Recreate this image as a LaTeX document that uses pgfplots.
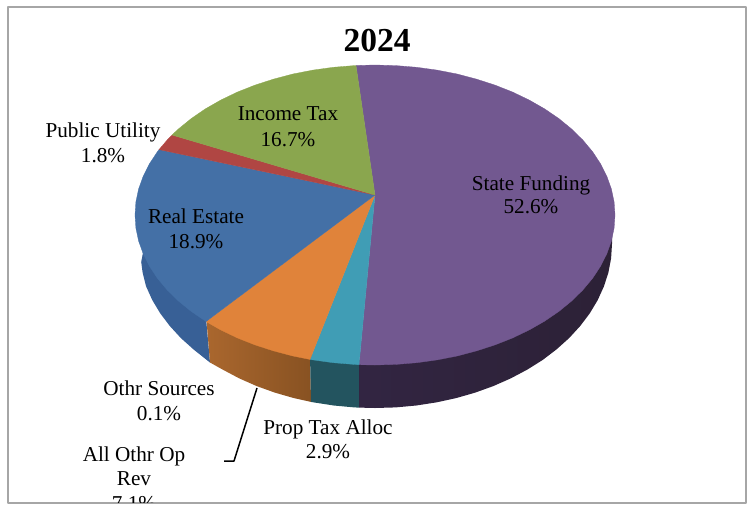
\documentclass[border=0pt]{standalone}
\usepackage{pgfplots}
\pgfplotsset{compat=1.18}
\usepackage{fontspec}
\setmainfont{Liberation Serif}
\definecolor{cPurple}{RGB}{114,88,144}
\definecolor{cTeal}{RGB}{64,157,181}
\definecolor{cOrange}{RGB}{224,131,58}
\definecolor{cBlue}{RGB}{68,112,166}
\definecolor{cRed}{RGB}{176,70,67}
\definecolor{cGreen}{RGB}{138,166,78}
\definecolor{cFrame}{RGB}{166,166,166}
\definecolor{wBlue}{RGB}{56,96,150}
\definecolor{wOrangeL}{RGB}{170,103,46}
\definecolor{wOrangeR}{RGB}{136,82,34}
\definecolor{wTeal}{RGB}{35,84,95}
\definecolor{wPurpleL}{RGB}{50,37,66}
\definecolor{wPurpleR}{RGB}{44,33,54}
\newcommand{\lab}{\fontsize{21.2}{24}\selectfont}
\begin{document}
\begin{tikzpicture}
\begin{axis}[
  scale only axis, width=751pt, height=504pt,
  xmin=0, xmax=751, ymin=0, ymax=504, y dir=reverse,
  hide axis, clip=false,
  every axis plot/.append style={line join=round},
]
% chart frame
\addplot[cFrame, line width=1.5pt] coordinates {(8,7) (746,7) (746,503) (8,503)} --cycle;

% side walls of the disc
\addplot[draw=none, fill=wBlue] coordinates {
 (206,318) (210,362.5) (207.4,360.5) (193.5,349.4) (180.9,338.1) (169.8,326) (160.2,313.3)
 (152.3,300.1) (146.1,286.4) (142.6,272.5) (141.2,262) (143.5,250)} --cycle;
\addplot[draw=none, left color=wOrangeL, right color=wOrangeR] coordinates {
 (206.3,318) (310,355) (311,401.9) (293.9,398.1) (274.8,392.6) (256.5,386) (239.1,378.3)
 (222.7,369.6) (210,362.5)} --cycle;
\addplot[draw=none, fill=wTeal] coordinates {
 (310,355) (359,360) (359,407.6) (354.3,407.4) (333.8,405.5) (313.7,402.4) (311,401.9)} --cycle;
\addplot[draw=none, left color=wPurpleL, right color=wPurpleR] coordinates {
 (359,360) (359,407.6) (375,408) (395.7,407.4) (416.2,405.5) (436.3,402.4) (456.1,398.1)
 (475.2,392.6) (493.5,386) (510.9,378.3) (527.3,369.6) (542.6,360) (556.5,349.4) (569.1,338.1)
 (580.2,326) (589.8,313.3) (597.7,300.1) (603.9,286.4) (608.4,272.5) (611.1,258.3) (612,244) (612,232)} --cycle;

% top face of the disc
\addplot[fill=cPurple, draw=cPurple, line width=0.3pt] coordinates {
 (375,195) (356,65.5) (375,65) (395.9,65.6) (416.7,67.3) (437.1,70.1) (457.1,74) (476.4,79.1)
 (495,85.1) (512.7,92.1) (529.3,100.1) (544.7,108.9) (558.9,118.6) (571.6,129) (582.8,140)
 (592.5,151.6) (600.5,163.7) (606.8,176.2) (611.4,189) (614.1,201.9) (615,215) (614.1,228.1)
 (611.4,241) (606.8,253.8) (600.5,266.3) (592.5,278.4) (582.8,290) (571.6,301) (558.9,311.4)
 (544.7,321.1) (529.3,329.9) (512.7,337.9) (495,344.9) (476.4,350.9) (457.1,356) (437.1,359.9)
 (416.7,362.7) (395.9,364.4) (375,365) (359,364.7)} --cycle;
\addplot[fill=cTeal, draw=cTeal, line width=0.3pt] coordinates {
 (375,195) (359,364.7) (354.1,364.4) (333.3,362.7) (312.9,359.9) (310,359.4)} --cycle;
\addplot[fill=cOrange, draw=cOrange, line width=0.3pt] coordinates {
 (375,195) (310,359.4) (292.9,356) (273.6,350.9) (255,344.9) (237.3,337.9) (220.7,329.9) (206,321.5)} --cycle;
\addplot[fill=cBlue, draw=cBlue, line width=0.3pt] coordinates {
 (375,195) (206,321.5) (191.2,311.4) (178.4,301) (167.2,290) (157.5,278.4) (149.5,266.3)
 (143.2,253.8) (138.6,241) (135.9,228.1) (135,215) (135.9,201.9) (138.6,189) (143.2,176.2)
 (149.5,163.7) (157.5,151.6) (159,149.6)} --cycle;
\addplot[fill=cRed, draw=cRed, line width=0.3pt] coordinates {
 (375,195) (159,149.6) (167.2,140) (172,135)} --cycle;
\addplot[fill=cGreen, draw=cGreen, line width=0.3pt] coordinates {
 (375,195) (172,135) (178.4,129) (191.2,118.6) (205.3,108.9) (220.7,100.1) (237.3,92.1)
 (255,85.1) (273.6,79.1) (292.9,74) (312.9,70.1) (333.3,67.3) (354.1,65.6) (356,65.5)} --cycle;

% leader line of the All Othr Op Rev label
\addplot[black, line width=1.5pt] coordinates {(257,388) (234,461) (224,461)};

% title and data labels
\node[anchor=base, font=\bfseries\fontsize{33.5}{36}\selectfont] at (axis cs:377,51) {2024};
\node[anchor=base, font=\lab] at (axis cs:531,190) {State Funding};
\node[anchor=base, font=\lab] at (axis cs:531,213) {52.6\%};
\node[anchor=base, font=\lab] at (axis cs:288,120) {Income Tax};
\node[anchor=base, font=\lab] at (axis cs:288,146) {16.7\%};
\node[anchor=base, font=\lab] at (axis cs:103,137) {Public Utility};
\node[anchor=base, font=\lab] at (axis cs:103,162) {1.8\%};
\node[anchor=base, font=\lab] at (axis cs:196,223) {Real Estate};
\node[anchor=base, font=\lab] at (axis cs:196,248) {18.9\%};
\node[anchor=base, font=\lab] at (axis cs:159,395) {Othr Sources};
\node[anchor=base, font=\lab] at (axis cs:159,420) {0.1\%};
\node[anchor=base, font=\lab] at (axis cs:328,434) {Prop Tax Alloc};
\node[anchor=base, font=\lab] at (axis cs:328,458) {2.9\%};
\node[anchor=base, font=\lab] at (axis cs:134,461) {All Othr Op};
\node[anchor=base, font=\lab] at (axis cs:134,485) {Rev};
\begin{scope}
\clip (axis cs:0,0) rectangle (axis cs:751,502);
\node[anchor=base, font=\lab] at (axis cs:134,510) {7.1\%};
\end{scope}
\end{axis}
\pgfresetboundingbox
\useasboundingbox (0,0) rectangle (751pt,504pt);
\end{tikzpicture}
\end{document}
